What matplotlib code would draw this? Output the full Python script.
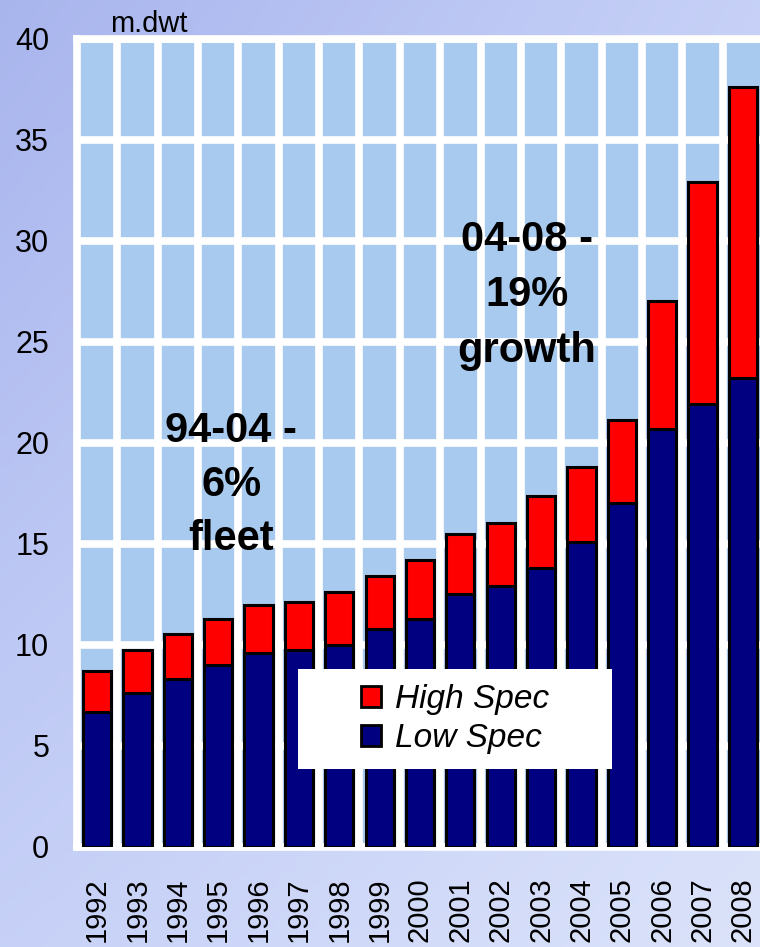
import numpy as np
import matplotlib
matplotlib.use("Agg")
import matplotlib.pyplot as plt
from matplotlib.patches import Patch, Rectangle

plt.rcParams['font.family'] = ['Liberation Sans', 'DejaVu Sans']

years = ['1992', '1993', '1994', '1995', '1996', '1997', '1998', '1999', '2000',
         '2001', '2002', '2003', '2004', '2005', '2006', '2007', '2008']
low_spec = [6.7, 7.6, 8.3, 9.0, 9.6, 9.75, 10.0, 10.8, 11.3,
            12.5, 12.9, 13.8, 15.1, 17.0, 20.7, 21.9, 23.2]
total = [8.7, 9.75, 10.55, 11.3, 11.95, 12.1, 12.6, 13.4, 14.2,
         15.5, 16.05, 17.35, 18.8, 21.15, 27.0, 32.9, 37.6]
high_spec = [t - l for t, l in zip(total, low_spec)]
y_ticks = [0, 5, 10, 15, 20, 25, 30, 35, 40]

fig = plt.figure(figsize=(7.6, 9.47), dpi=100)

# soft bluish backdrop
bg = fig.add_axes([0, 0, 1, 1], zorder=-10)
tl = np.array([0.66, 0.71, 0.93])
tr = np.array([0.78, 0.82, 0.97])
bl = np.array([0.78, 0.82, 0.97])
br = np.array([0.86, 0.89, 0.98])
u = np.linspace(0, 1, 200)[None, :, None]
v = np.linspace(0, 1, 200)[:, None, None]
img = (1 - v) * ((1 - u) * tl + u * tr) + v * ((1 - u) * bl + u * br)
bg.imshow(img, aspect='auto', extent=[0, 1, 0, 1])
bg.axis('off')

ax = fig.add_axes([0.1013, 0.1056, 0.9026, 0.8537])
ax.set_facecolor('#A8CAEE')
x = np.arange(len(years))
ax.bar(x, low_spec, width=0.7, color='#000080', edgecolor='black', linewidth=2.2, zorder=3)
ax.bar(x, high_spec, width=0.7, bottom=low_spec, color='#FF0000', edgecolor='black',
       linewidth=2.2, zorder=3)

ax.set_xlim(-0.5, len(years) - 0.5)
ax.set_ylim(0, 40)
ax.set_yticks(y_ticks)
ax.set_yticklabels([str(t) for t in y_ticks], fontsize=22)
ax.set_xticks(x)
ax.set_xticklabels(years, rotation=90, fontsize=21)
ax.set_xticks(x[:-1] + 0.5, minor=True)
ax.tick_params(axis='both', which='both', length=0)
ax.tick_params(axis='y', pad=20)
ax.tick_params(axis='x', pad=22)
ax.set_axisbelow(True)
ax.grid(axis='y', which='major', color='white', linewidth=5.5)
ax.grid(axis='x', which='minor', color='white', linewidth=5.5)
ax.grid(axis='x', which='major', visible=False)
for s in ax.spines.values():
    s.set_color('white')
    s.set_linewidth(5.5)

ax.text(3.32, 17.9, '94-04 -\n6%\nfleet', ha='center', va='center', fontsize=30,
        fontweight='bold', linespacing=1.45, zorder=5)
ax.text(10.64, 27.3, '04-08 -\n19%\ngrowth', ha='center', va='center', fontsize=30,
        fontweight='bold', linespacing=1.5, zorder=5)

# legend: white box with the entries centred in it
ax.add_patch(Rectangle((0.322, 0.0965), 0.458, 0.1237, transform=ax.transAxes,
                       facecolor='white', edgecolor='none', zorder=5))
handles = [Patch(facecolor='#FF0000', edgecolor='black', linewidth=2),
           Patch(facecolor='#000080', edgecolor='black', linewidth=2)]
leg = ax.legend(handles, ['High Spec', 'Low Spec'], loc='center',
                bbox_to_anchor=(0.551, 0.158), prop={'size': 24, 'style': 'italic'},
                frameon=False, handlelength=0.6, handleheight=0.6, handletextpad=0.4,
                borderpad=0, borderaxespad=0, labelspacing=0.25)
leg.set_zorder(6)

fig.text(0.1447, 0.966, 'm.dwt', fontsize=21, va='baseline', ha='left')
fig.text(0.415, 1.012, 'g', fontsize=34, fontweight='bold', va='baseline', ha='left')

fig.savefig('out.png', dpi=100)
